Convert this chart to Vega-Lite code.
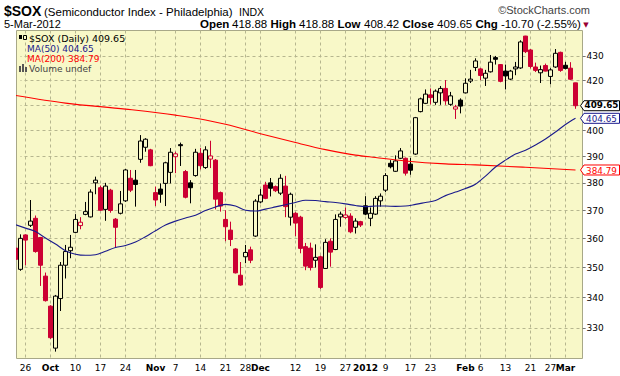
{
  "$schema": "https://vega.github.io/schema/vega-lite/v6.json",
  "width": 566,
  "height": 328,
  "autosize": "none",
  "padding": {"left": 16, "top": 30, "right": 38, "bottom": 18},
  "background": "#FFFFFF",
  "view": {"fill": "#F8F8C8", "stroke": "#A8A888", "strokeWidth": 1},
  "config": {
    "view": {"fill": "#F8F8C8", "stroke": "#A8A888", "strokeWidth": 1}
  },
  "datasets": {
    "sox": [
      {"date": "2011-09-22", "open": 356.6, "high": 357.5, "low": 352.0, "close": 352.7, "ma50": 364.8, "ma200": 413.8},
      {"date": "2011-09-23", "open": 349.3, "high": 361.4, "low": 348.8, "close": 360.0},
      {"date": "2011-09-26", "open": 361.2, "high": 361.4, "low": 350.7, "close": 359.4, "ma50": 363.6},
      {"date": "2011-09-27", "open": 364.6, "high": 373.7, "low": 364.0, "close": 366.1},
      {"date": "2011-09-28", "open": 367.1, "high": 368.1, "low": 355.0, "close": 355.4, "ma50": 362.4},
      {"date": "2011-09-29", "open": 360.3, "high": 360.5, "low": 343.7, "close": 350.7},
      {"date": "2011-09-30", "open": 347.0, "high": 348.2, "low": 338.5, "close": 338.8, "ma50": 360.1},
      {"date": "2011-10-03", "open": 337.0, "high": 337.3, "low": 326.4, "close": 326.8},
      {"date": "2011-10-04", "open": 323.5, "high": 340.7, "low": 322.4, "close": 340.3, "ma50": 358.0},
      {"date": "2011-10-05", "open": 339.5, "high": 351.8, "low": 335.4, "close": 350.7},
      {"date": "2011-10-06", "open": 350.7, "high": 357.7, "low": 346.2, "close": 355.4, "ma50": 355.7, "ma200": 410.7},
      {"date": "2011-10-07", "open": 355.7, "high": 361.2, "low": 353.1, "close": 356.9},
      {"date": "2011-10-10", "open": 362.1, "high": 368.6, "low": 361.8, "close": 366.7, "ma50": 354.5},
      {"date": "2011-10-11", "open": 364.5, "high": 367.5, "low": 363.2, "close": 365.7},
      {"date": "2011-10-12", "open": 368.5, "high": 373.0, "low": 368.2, "close": 369.5, "ma50": 354.1},
      {"date": "2011-10-13", "open": 367.6, "high": 377.6, "low": 367.4, "close": 376.6},
      {"date": "2011-10-14", "open": 380.0, "high": 382.3, "low": 375.8, "close": 381.0, "ma50": 354.3},
      {"date": "2011-10-17", "open": 378.2, "high": 379.0, "low": 369.8, "close": 370.0},
      {"date": "2011-10-18", "open": 370.3, "high": 380.0, "low": 366.2, "close": 378.8, "ma50": 355.5},
      {"date": "2011-10-19", "open": 377.3, "high": 377.8, "low": 369.1, "close": 369.9},
      {"date": "2011-10-20", "open": 366.8, "high": 367.2, "low": 356.9, "close": 363.9, "ma50": 356.8},
      {"date": "2011-10-21", "open": 368.9, "high": 377.0, "low": 368.5, "close": 372.3},
      {"date": "2011-10-24", "open": 373.4, "high": 385.2, "low": 373.0, "close": 384.8, "ma50": 357.5, "ma200": 408.3},
      {"date": "2011-10-25", "open": 381.7, "high": 384.8, "low": 376.6, "close": 377.3},
      {"date": "2011-10-26", "open": 381.0, "high": 384.8, "low": 371.3, "close": 379.4, "ma50": 358.7},
      {"date": "2011-10-27", "open": 388.8, "high": 398.1, "low": 387.5, "close": 395.8},
      {"date": "2011-10-28", "open": 393.4, "high": 396.9, "low": 391.7, "close": 396.5, "ma50": 360.6},
      {"date": "2011-10-31", "open": 392.4, "high": 392.8, "low": 386.2, "close": 386.4},
      {"date": "2011-11-01", "open": 376.4, "high": 378.6, "low": 371.5, "close": 373.7, "ma50": 362.7},
      {"date": "2011-11-02", "open": 377.7, "high": 379.8, "low": 372.7, "close": 375.8},
      {"date": "2011-11-03", "open": 379.8, "high": 387.9, "low": 371.5, "close": 387.5, "ma50": 364.7},
      {"date": "2011-11-04", "open": 383.9, "high": 393.1, "low": 379.8, "close": 391.5},
      {"date": "2011-11-07", "open": 389.8, "high": 391.7, "low": 383.6, "close": 390.9, "ma50": 366.1, "ma200": 405.9},
      {"date": "2011-11-08", "open": 394.4, "high": 395.2, "low": 386.3, "close": 394.0},
      {"date": "2011-11-09", "open": 384.2, "high": 384.8, "low": 374.3, "close": 374.7, "ma50": 367.2},
      {"date": "2011-11-10", "open": 380.0, "high": 381.0, "low": 372.5, "close": 378.2},
      {"date": "2011-11-11", "open": 382.7, "high": 392.8, "low": 382.3, "close": 391.5, "ma50": 368.2},
      {"date": "2011-11-14", "open": 391.1, "high": 393.1, "low": 385.0, "close": 386.4},
      {"date": "2011-11-15", "open": 385.7, "high": 393.8, "low": 385.2, "close": 392.4, "ma50": 369.9, "ma200": 404.0},
      {"date": "2011-11-16", "open": 388.9, "high": 395.9, "low": 385.5, "close": 390.1},
      {"date": "2011-11-17", "open": 388.5, "high": 388.9, "low": 370.3, "close": 374.0, "ma50": 371.2},
      {"date": "2011-11-18", "open": 376.4, "high": 376.8, "low": 369.5, "close": 371.5},
      {"date": "2011-11-21", "open": 366.7, "high": 370.0, "low": 359.0, "close": 364.1, "ma50": 372.1, "ma200": 402.3},
      {"date": "2011-11-22", "open": 362.9, "high": 365.9, "low": 357.3, "close": 359.6},
      {"date": "2011-11-23", "open": 356.3, "high": 356.6, "low": 347.9, "close": 348.1, "ma50": 371.5},
      {"date": "2011-11-25", "open": 347.3, "high": 351.8, "low": 343.8, "close": 344.0},
      {"date": "2011-11-28", "open": 353.6, "high": 357.7, "low": 351.4, "close": 355.1, "ma50": 370.0},
      {"date": "2011-11-29", "open": 356.0, "high": 357.1, "low": 351.4, "close": 352.4},
      {"date": "2011-11-30", "open": 360.8, "high": 374.0, "low": 360.5, "close": 373.3, "ma50": 369.7},
      {"date": "2011-12-01", "open": 373.0, "high": 377.7, "low": 372.5, "close": 375.5},
      {"date": "2011-12-02", "open": 379.2, "high": 380.4, "low": 374.0, "close": 374.3, "ma50": 370.4, "ma200": 398.1},
      {"date": "2011-12-05", "open": 380.0, "high": 381.8, "low": 375.0, "close": 378.0},
      {"date": "2011-12-06", "open": 378.6, "high": 379.0, "low": 376.6, "close": 377.1, "ma50": 371.2},
      {"date": "2011-12-07", "open": 376.2, "high": 383.2, "low": 375.5, "close": 381.7},
      {"date": "2011-12-08", "open": 378.8, "high": 382.6, "low": 367.5, "close": 371.3, "ma50": 372.0},
      {"date": "2011-12-09", "open": 367.5, "high": 376.4, "low": 364.5, "close": 375.8},
      {"date": "2011-12-12", "open": 368.9, "high": 369.3, "low": 360.8, "close": 365.4, "ma50": 372.8, "ma200": 395.2},
      {"date": "2011-12-13", "open": 367.5, "high": 368.0, "low": 354.8, "close": 356.5},
      {"date": "2011-12-14", "open": 357.1, "high": 358.4, "low": 349.0, "close": 350.4, "ma50": 373.6},
      {"date": "2011-12-15", "open": 356.6, "high": 358.5, "low": 348.9, "close": 349.9},
      {"date": "2011-12-16", "open": 352.4, "high": 357.9, "low": 349.9, "close": 353.4, "ma50": 373.5},
      {"date": "2011-12-19", "open": 353.6, "high": 354.0, "low": 342.7, "close": 343.2},
      {"date": "2011-12-20", "open": 349.6, "high": 359.7, "low": 349.4, "close": 358.6, "ma50": 373.1, "ma200": 392.5},
      {"date": "2011-12-21", "open": 359.0, "high": 360.0, "low": 350.2, "close": 355.2},
      {"date": "2011-12-22", "open": 356.1, "high": 368.5, "low": 355.9, "close": 366.7, "ma50": 372.8},
      {"date": "2011-12-23", "open": 367.6, "high": 369.5, "low": 364.1, "close": 368.6},
      {"date": "2011-12-27", "open": 367.4, "high": 371.0, "low": 366.9, "close": 368.3, "ma50": 372.3},
      {"date": "2011-12-28", "open": 367.9, "high": 368.9, "low": 361.8, "close": 362.3},
      {"date": "2011-12-29", "open": 363.9, "high": 367.1, "low": 361.7, "close": 366.1, "ma50": 371.7, "ma200": 390.4},
      {"date": "2011-12-30", "open": 365.9, "high": 366.2, "low": 364.0, "close": 364.7},
      {"date": "2012-01-03", "open": 371.6, "high": 375.1, "low": 368.2, "close": 368.6, "ma50": 371.3},
      {"date": "2012-01-04", "open": 367.1, "high": 371.0, "low": 364.3, "close": 368.9},
      {"date": "2012-01-05", "open": 368.6, "high": 375.1, "low": 368.3, "close": 374.3, "ma50": 371.5, "ma200": 389.5},
      {"date": "2012-01-06", "open": 373.4, "high": 376.1, "low": 371.3, "close": 375.1},
      {"date": "2012-01-09", "open": 377.3, "high": 383.6, "low": 376.6, "close": 382.7, "ma50": 371.5},
      {"date": "2012-01-10", "open": 387.3, "high": 388.5, "low": 385.4, "close": 386.0},
      {"date": "2012-01-11", "open": 384.3, "high": 390.3, "low": 384.1, "close": 388.2, "ma50": 371.4},
      {"date": "2012-01-12", "open": 389.2, "high": 393.1, "low": 388.9, "close": 392.0},
      {"date": "2012-01-13", "open": 389.2, "high": 389.5, "low": 382.7, "close": 383.6, "ma50": 371.5, "ma200": 388.2},
      {"date": "2012-01-17", "open": 387.0, "high": 389.3, "low": 383.0, "close": 384.7},
      {"date": "2012-01-18", "open": 390.8, "high": 405.2, "low": 390.5, "close": 404.9, "ma50": 372.1},
      {"date": "2012-01-19", "open": 407.3, "high": 412.9, "low": 407.0, "close": 412.4},
      {"date": "2012-01-20", "open": 410.6, "high": 416.2, "low": 410.3, "close": 414.3, "ma50": 372.8},
      {"date": "2012-01-23", "open": 414.0, "high": 416.6, "low": 410.2, "close": 412.9},
      {"date": "2012-01-24", "open": 411.0, "high": 416.2, "low": 410.0, "close": 415.5, "ma50": 373.5},
      {"date": "2012-01-25", "open": 414.8, "high": 417.6, "low": 410.0, "close": 416.6},
      {"date": "2012-01-26", "open": 416.6, "high": 420.0, "low": 410.0, "close": 411.6, "ma50": 375.3, "ma200": 387.1},
      {"date": "2012-01-27", "open": 410.2, "high": 415.2, "low": 409.6, "close": 413.6},
      {"date": "2012-01-30", "open": 408.3, "high": 410.0, "low": 404.4, "close": 409.2, "ma50": 376.6},
      {"date": "2012-01-31", "open": 411.9, "high": 412.6, "low": 406.6, "close": 409.5},
      {"date": "2012-02-01", "open": 414.8, "high": 420.7, "low": 414.6, "close": 418.7, "ma50": 377.9},
      {"date": "2012-02-02", "open": 419.6, "high": 424.2, "low": 418.8, "close": 420.4},
      {"date": "2012-02-03", "open": 425.2, "high": 429.0, "low": 423.7, "close": 427.9, "ma50": 379.5, "ma200": 386.7},
      {"date": "2012-02-06", "open": 424.6, "high": 425.0, "low": 420.0, "close": 421.9},
      {"date": "2012-02-07", "open": 420.8, "high": 424.2, "low": 417.6, "close": 422.8, "ma50": 382.5},
      {"date": "2012-02-08", "open": 423.4, "high": 430.4, "low": 423.1, "close": 427.4},
      {"date": "2012-02-09", "open": 429.3, "high": 430.0, "low": 426.4, "close": 428.6, "ma50": 385.9},
      {"date": "2012-02-10", "open": 426.4, "high": 426.6, "low": 419.1, "close": 419.5},
      {"date": "2012-02-13", "open": 423.7, "high": 426.4, "low": 416.2, "close": 421.7, "ma50": 388.5},
      {"date": "2012-02-14", "open": 420.4, "high": 424.2, "low": 420.0, "close": 423.7},
      {"date": "2012-02-15", "open": 424.6, "high": 427.5, "low": 422.0, "close": 425.4, "ma50": 390.8},
      {"date": "2012-02-16", "open": 425.0, "high": 436.6, "low": 424.6, "close": 435.9},
      {"date": "2012-02-17", "open": 438.4, "high": 438.5, "low": 431.2, "close": 431.8, "ma50": 392.3, "ma200": 385.8},
      {"date": "2012-02-21", "open": 432.5, "high": 432.9, "low": 424.8, "close": 425.6},
      {"date": "2012-02-22", "open": 425.4, "high": 427.2, "low": 423.3, "close": 424.0, "ma50": 394.3},
      {"date": "2012-02-23", "open": 423.0, "high": 426.0, "low": 418.8, "close": 424.3},
      {"date": "2012-02-24", "open": 426.0, "high": 426.8, "low": 423.6, "close": 423.7, "ma50": 396.6},
      {"date": "2012-02-27", "open": 421.5, "high": 424.9, "low": 418.3, "close": 424.2},
      {"date": "2012-02-28", "open": 425.4, "high": 432.9, "low": 425.0, "close": 431.1, "ma50": 399.3},
      {"date": "2012-02-29", "open": 431.5, "high": 431.8, "low": 423.4, "close": 424.0},
      {"date": "2012-03-01", "open": 426.1, "high": 427.5, "low": 424.4, "close": 424.8, "ma50": 402.2},
      {"date": "2012-03-02", "open": 424.9, "high": 427.4, "low": 420.1, "close": 420.35},
      {"date": "2012-03-05", "open": 418.88, "high": 418.88, "low": 408.42, "close": 409.65, "ma50": 404.65, "ma200": 384.79}
    ]
  },
  "data": {"name": "sox"},
  "transform": [
    {"window": [{"op": "lag", "field": "close", "as": "prev"}], "sort": [{"field": "date", "order": "ascending"}]}
  ],
  "layer": [
    {
      "mark": {"type": "rule", "strokeWidth": 1, "clip": true},
      "encoding": {
        "x": {
          "field": "date",
          "type": "ordinal",
          "scale": {"type": "band", "range": [-3.0, 562.0], "paddingInner": 0, "paddingOuter": 0},
          "axis": {
            "values": ["2011-09-26", "2011-10-03", "2011-10-10", "2011-10-17", "2011-10-24", "2011-11-01", "2011-11-07", "2011-11-14", "2011-11-21", "2011-11-28", "2011-12-01", "2011-12-12", "2011-12-19", "2011-12-27", "2012-01-03", "2012-01-09", "2012-01-17", "2012-01-23", "2012-02-01", "2012-02-06", "2012-02-13", "2012-02-21", "2012-02-27", "2012-03-01"],
            "labelExpr": "datum.value == '2012-01-03' ? '2012' : (indexof(['2011-10-03','2011-11-01','2011-12-01','2012-02-01','2012-03-01'], datum.value) >= 0 ? ['Jan','Feb','Mar','Apr','May','Jun','Jul','Aug','Sep','Oct','Nov','Dec'][toNumber(substring(datum.value, 5, 7)) - 1] : '' + toNumber(substring(datum.value, 8, 10)))",
            "labelFontWeight": {"condition": {"test": "datum.value == '2011-10-03' || datum.value == '2011-11-01' || datum.value == '2011-12-01' || datum.value == '2012-01-03' || datum.value == '2012-02-01' || datum.value == '2012-03-01'", "value": "bold"}, "value": "normal"},
            "labelFont": "DejaVu Sans",
            "labelFontSize": 9,
            "labelColor": "#000000",
            "labelAngle": 0,
            "labelOverlap": false,
            "labelPadding": 5,
            "ticks": false,
            "domain": false,
            "grid": true,
            "gridColor": "#B6B68F",
            "gridDash": [3, 3],
            "gridWidth": 1,
            "gridOpacity": 1,
            "title": null
          }
        },
        "y": {
          "field": "low",
          "type": "quantitative",
          "scale": {"type": "log", "domain": [320.4, 441], "nice": false},
          "axis": {"orient": "right", "values": [330, 340, 350, 360, 370, 380, 390, 400, 410, 420, 430], "format": "d", "labelFont": "DejaVu Sans", "labelFontSize": 9, "labelColor": "#000000", "tickSize": 3, "tickColor": "#777777", "labelPadding": 1, "domain": false, "grid": true, "gridColor": "#B6B68F", "gridDash": [3, 3], "gridWidth": 1, "gridOpacity": 1, "title": null}
        },
        "y2": {"field": "high"},
        "color": {"condition": {"test": "datum.prev != null && datum.close >= datum.prev", "value": "#000000"}, "value": "#CC0033"}
      }
    },
    {
      "mark": {"type": "bar", "width": {"band": 0.8}, "strokeWidth": 1, "clip": true},
      "encoding": {
        "x": {"field": "date", "type": "ordinal"},
        "y": {"field": "open", "type": "quantitative"},
        "y2": {"field": "close"},
        "fill": {"condition": [{"test": "datum.close >= datum.open", "value": "#F8F8C8"}, {"test": "datum.prev != null && datum.close >= datum.prev", "value": "#000000"}], "value": "#CC0033"},
        "stroke": {"condition": {"test": "datum.prev != null && datum.close >= datum.prev", "value": "#000000"}, "value": "#CC0033"}
      }
    },
    {
      "transform": [{"filter": "isValid(datum.ma200)"}],
      "mark": {"type": "line", "color": "#FF0000", "strokeWidth": 1.1, "interpolate": "monotone", "clip": true},
      "encoding": {"x": {"field": "date", "type": "ordinal"}, "y": {"field": "ma200", "type": "quantitative"}}
    },
    {
      "transform": [{"filter": "isValid(datum.ma50)"}],
      "mark": {"type": "line", "color": "#1A1A8C", "strokeWidth": 1.1, "interpolate": "monotone", "clip": true},
      "encoding": {"x": {"field": "date", "type": "ordinal"}, "y": {"field": "ma50", "type": "quantitative"}}
    },
    {
      "transform": [{"filter": "datum.date == '2012-03-05'"}, {"fold": ["close", "ma50", "ma200"], "as": ["key", "val"]}],
      "mark": {"type": "point", "shape": "M -19.5 0 L -16 -5 L 19.5 -5 L 19.5 5 L -16 5 Z", "size": 4, "filled": true, "fill": "#FFFFFF", "strokeWidth": 1, "opacity": 1, "xOffset": 24.5},
      "encoding": {
        "x": {"field": "date", "type": "ordinal"},
        "y": {"field": "val", "type": "quantitative"},
        "stroke": {"field": "key", "type": "nominal", "scale": {"domain": ["close", "ma50", "ma200"], "range": ["#000000", "#1A1A8C", "#FF0000"]}, "legend": null}
      }
    },
    {
      "transform": [{"filter": "datum.date == '2012-03-05'"}, {"fold": ["ma50", "ma200"], "as": ["key", "val"]}],
      "mark": {"type": "text", "align": "center", "baseline": "middle", "xOffset": 26, "dy": 1, "font": "DejaVu Sans", "fontSize": 8.8},
      "encoding": {
        "x": {"field": "date", "type": "ordinal"},
        "y": {"field": "val", "type": "quantitative"},
        "text": {"field": "val", "type": "quantitative", "format": ".2f"},
        "color": {"field": "key", "type": "nominal", "scale": {"domain": ["ma50", "ma200"], "range": ["#1A1A8C", "#FF0000"]}, "legend": null}
      }
    },
    {
      "transform": [{"filter": "datum.date == '2012-03-05'"}],
      "mark": {"type": "text", "align": "center", "baseline": "middle", "xOffset": 26, "dy": -0.5, "font": "DejaVu Sans", "fontSize": 8.8, "fontWeight": "bold", "color": "#000000"},
      "encoding": {
        "x": {"field": "date", "type": "ordinal"},
        "y": {"field": "close", "type": "quantitative"},
        "text": {"field": "close", "type": "quantitative", "format": ".2f"}
      }
    },
    {"data": {"values": [{"t": "$SOX"}]}, "mark": {"type": "text", "x": -12, "y": -14, "align": "left", "baseline": "alphabetic", "font": "Liberation Sans", "fontSize": 14, "fontWeight": "bold", "color": "#000000"}, "encoding": {"text": {"field": "t", "type": "nominal"}}},
    {"data": {"values": [{"t": "(Semiconductor Index - Philadelphia)"}]}, "mark": {"type": "text", "x": 28, "y": -14, "align": "left", "baseline": "alphabetic", "font": "Liberation Sans", "fontSize": 11.5, "color": "#000000"}, "encoding": {"text": {"field": "t", "type": "nominal"}}},
    {"data": {"values": [{"t": "INDX"}]}, "mark": {"type": "text", "x": 223, "y": -14, "align": "left", "baseline": "alphabetic", "font": "Liberation Sans", "fontSize": 10.5, "color": "#000000"}, "encoding": {"text": {"field": "t", "type": "nominal"}}},
    {"data": {"values": [{"t": "5-Mar-2012"}]}, "mark": {"type": "text", "x": -12, "y": -2, "align": "left", "baseline": "alphabetic", "font": "Liberation Sans", "fontSize": 11, "color": "#000000"}, "encoding": {"text": {"field": "t", "type": "nominal"}}},
    {"data": {"values": [{"t": "©StockCharts.com"}]}, "mark": {"type": "text", "x": 574, "y": -16, "align": "right", "baseline": "alphabetic", "font": "Liberation Sans", "fontSize": 11, "color": "#444444"}, "encoding": {"text": {"field": "t", "type": "nominal"}}},
    {"data": {"values": [{"t": "Open"}]}, "mark": {"type": "text", "x": 184, "y": -2, "align": "left", "baseline": "alphabetic", "font": "Liberation Sans", "fontSize": 11.5, "fontWeight": "bold", "color": "#000000"}, "encoding": {"text": {"field": "t", "type": "nominal"}}},
    {"data": {"values": [{"t": "418.88"}]}, "mark": {"type": "text", "x": 216, "y": -2, "align": "left", "baseline": "alphabetic", "font": "Liberation Sans", "fontSize": 11.5, "color": "#000000"}, "encoding": {"text": {"field": "t", "type": "nominal"}}},
    {"data": {"values": [{"t": "High"}]}, "mark": {"type": "text", "x": 254.5, "y": -2, "align": "left", "baseline": "alphabetic", "font": "Liberation Sans", "fontSize": 11.5, "fontWeight": "bold", "color": "#000000"}, "encoding": {"text": {"field": "t", "type": "nominal"}}},
    {"data": {"values": [{"t": "418.88"}]}, "mark": {"type": "text", "x": 283, "y": -2, "align": "left", "baseline": "alphabetic", "font": "Liberation Sans", "fontSize": 11.5, "color": "#000000"}, "encoding": {"text": {"field": "t", "type": "nominal"}}},
    {"data": {"values": [{"t": "Low"}]}, "mark": {"type": "text", "x": 321.5, "y": -2, "align": "left", "baseline": "alphabetic", "font": "Liberation Sans", "fontSize": 11.5, "fontWeight": "bold", "color": "#000000"}, "encoding": {"text": {"field": "t", "type": "nominal"}}},
    {"data": {"values": [{"t": "408.42"}]}, "mark": {"type": "text", "x": 348, "y": -2, "align": "left", "baseline": "alphabetic", "font": "Liberation Sans", "fontSize": 11.5, "color": "#000000"}, "encoding": {"text": {"field": "t", "type": "nominal"}}},
    {"data": {"values": [{"t": "Close"}]}, "mark": {"type": "text", "x": 386.5, "y": -2, "align": "left", "baseline": "alphabetic", "font": "Liberation Sans", "fontSize": 11.5, "fontWeight": "bold", "color": "#000000"}, "encoding": {"text": {"field": "t", "type": "nominal"}}},
    {"data": {"values": [{"t": "409.65"}]}, "mark": {"type": "text", "x": 421, "y": -2, "align": "left", "baseline": "alphabetic", "font": "Liberation Sans", "fontSize": 11.5, "color": "#000000"}, "encoding": {"text": {"field": "t", "type": "nominal"}}},
    {"data": {"values": [{"t": "Chg"}]}, "mark": {"type": "text", "x": 459.5, "y": -2, "align": "left", "baseline": "alphabetic", "font": "Liberation Sans", "fontSize": 11.5, "fontWeight": "bold", "color": "#000000"}, "encoding": {"text": {"field": "t", "type": "nominal"}}},
    {"data": {"values": [{"t": "-10.70 (-2.55%)"}]}, "mark": {"type": "text", "x": 485, "y": -2, "align": "left", "baseline": "alphabetic", "font": "Liberation Sans", "fontSize": 11.5, "color": "#000000"}, "encoding": {"text": {"field": "t", "type": "nominal"}}},
    {"data": {"values": [{"t": "▼"}]}, "mark": {"type": "text", "x": 570, "y": -3, "align": "center", "baseline": "alphabetic", "font": "DejaVu Sans", "fontSize": 7, "color": "#990033"}, "encoding": {"text": {"field": "t", "type": "nominal"}}},
    {"data": {"values": [{"t": "$SOX (Daily) 409.65"}]}, "mark": {"type": "text", "x": 13, "y": 11.5, "align": "left", "baseline": "alphabetic", "font": "DejaVu Sans", "fontSize": 9.5, "color": "#000000"}, "encoding": {"text": {"field": "t", "type": "nominal"}}},
    {"data": {"values": [{"t": "MA(50) 404.65"}]}, "mark": {"type": "text", "x": 11, "y": 21.5, "align": "left", "baseline": "alphabetic", "font": "DejaVu Sans", "fontSize": 9, "color": "#1A1A8C"}, "encoding": {"text": {"field": "t", "type": "nominal"}}},
    {"data": {"values": [{"t": "MA(200) 384.79"}]}, "mark": {"type": "text", "x": 11, "y": 31.5, "align": "left", "baseline": "alphabetic", "font": "DejaVu Sans", "fontSize": 9, "color": "#FF0000"}, "encoding": {"text": {"field": "t", "type": "nominal"}}},
    {"data": {"values": [{"t": "Volume undef"}]}, "mark": {"type": "text", "x": 13, "y": 41.5, "align": "left", "baseline": "alphabetic", "font": "DejaVu Sans", "fontSize": 9, "color": "#444444"}, "encoding": {"text": {"field": "t", "type": "nominal"}}},
    {"data": {"values": [{"k": 1}]}, "mark": {"type": "rule", "x": 3, "x2": 10, "y": 18.5, "y2": 18.5, "color": "#1A1A8C", "strokeWidth": 2}, "encoding": {}},
    {"data": {"values": [{"k": 1}]}, "mark": {"type": "rule", "x": 3, "x2": 10, "y": 28.5, "y2": 28.5, "color": "#FF0000", "strokeWidth": 2}, "encoding": {}},
    {"data": {"values": [{"k": 1}]}, "mark": {"type": "rule", "x": 4.5, "x2": 4.5, "y": 3, "y2": 11, "color": "#000000", "strokeWidth": 1}, "encoding": {}},
    {"data": {"values": [{"k": 1}]}, "mark": {"type": "rect", "x": 3, "x2": 6, "y": 5, "y2": 9, "color": "#000000"}, "encoding": {}},
    {"data": {"values": [{"k": 1}]}, "mark": {"type": "rule", "x": 8.5, "x2": 8.5, "y": 4, "y2": 11, "color": "#000000", "strokeWidth": 1}, "encoding": {}},
    {"data": {"values": [{"k": 1}]}, "mark": {"type": "rect", "x": 7.5, "x2": 10.5, "y": 5.5, "y2": 9.5, "fill": "#F8F8C8", "stroke": "#000000", "strokeWidth": 1}, "encoding": {}},
    {"data": {"values": [{"k": 1}]}, "mark": {"type": "rect", "x": 3, "x2": 5, "y": 36, "y2": 42, "color": "#555555"}, "encoding": {}},
    {"data": {"values": [{"k": 1}]}, "mark": {"type": "rect", "x": 6, "x2": 8, "y": 34, "y2": 42, "color": "#555555"}, "encoding": {}},
    {"data": {"values": [{"k": 1}]}, "mark": {"type": "rect", "x": 9, "x2": 11, "y": 37, "y2": 42, "color": "#555555"}, "encoding": {}}
  ]
}
